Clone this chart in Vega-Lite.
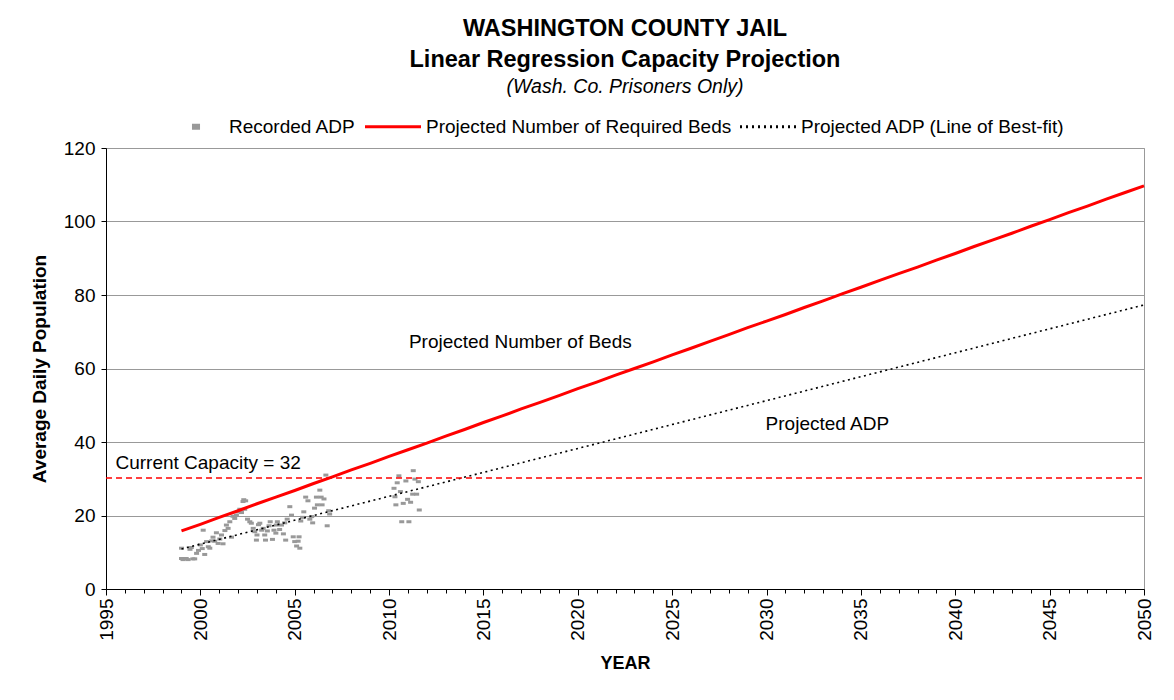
{
  "$schema": "https://vega.github.io/schema/vega-lite/v6.json",
  "width": 1038,
  "height": 441,
  "autosize": "none",
  "padding": {"left": 106, "top": 148, "right": 30, "bottom": 111},
  "background": "white",
  "config": {
    "font": "Liberation Sans",
    "view": {"stroke": "#999999", "strokeWidth": 1},
    "axis": {"labelFont": "Liberation Sans", "titleFont": "Liberation Sans", "labelColor": "black", "titleColor": "black"},
    "legend": {"labelFont": "Liberation Sans"},
    "text": {"font": "Liberation Sans"}
  },
  "title": {
    "text": ["WASHINGTON COUNTY JAIL", "Linear Regression Capacity Projection"],
    "subtitle": "(Wash. Co. Prisoners Only)",
    "font": "Liberation Sans",
    "subtitleFont": "Liberation Sans",
    "fontSize": 23.5,
    "fontWeight": "bold",
    "lineHeight": 31,
    "color": "black",
    "subtitleFontSize": 19.5,
    "subtitleFontStyle": "italic",
    "subtitleColor": "black",
    "subtitlePadding": 6,
    "anchor": "middle",
    "frame": "group",
    "offset": 1
  },
  "encoding": {
    "x": {
      "field": "year",
      "type": "quantitative",
      "scale": {"domain": [1995, 2050], "nice": false, "zero": false},
      "axis": {
        "title": "YEAR",
        "titleFontSize": 18,
        "titleFontWeight": "bold",
        "titlePadding": 14,
        "values": [1995,1996,1997,1998,1999,2000,2001,2002,2003,2004,2005,2006,2007,2008,2009,2010,2011,2012,2013,2014,2015,2016,2017,2018,2019,2020,2021,2022,2023,2024,2025,2026,2027,2028,2029,2030,2031,2032,2033,2034,2035,2036,2037,2038,2039,2040,2041,2042,2043,2044,2045,2046,2047,2048,2049,2050],
        "format": "d",
        "labelExpr": "datum.value % 5 === 0 ? datum.label : ''",
        "labelAngle": 270,
        "labelFontSize": 19,
        "labelPadding": 3,
        "labelFlush": false,
        "labelOverlap": false,
        "grid": false,
        "domainColor": "black",
        "tickColor": "black",
        "tickSize": {"condition": {"test": "datum.value % 5 === 0", "value": 6}, "value": 4}
      }
    },
    "y": {
      "field": "value",
      "type": "quantitative",
      "scale": {"domain": [0, 120], "nice": false},
      "axis": {
        "title": "Average Daily Population",
        "titleFontSize": 19,
        "titleFontWeight": "bold",
        "titlePadding": 14,
        "values": [0, 20, 40, 60, 80, 100, 120],
        "labelFontSize": 19,
        "labelPadding": 6,
        "grid": true,
        "gridColor": "#999999",
        "gridWidth": 1,
        "domainColor": "black",
        "tickColor": "black",
        "tickSize": 5
      }
    }
  },
  "layer": [
    {
      "data": {"values": [
        {"year": 1999.0, "value": 11.1}, {"year": 1999.0, "value": 8.3}, {"year": 1999.08, "value": 8.0}, {"year": 1999.17, "value": 8.2},
        {"year": 1999.25, "value": 8.3}, {"year": 1999.35, "value": 8.0}, {"year": 1999.45, "value": 10.8}, {"year": 1999.52, "value": 11.3},
        {"year": 1999.6, "value": 8.2}, {"year": 1999.7, "value": 8.2}, {"year": 1999.8, "value": 9.7}, {"year": 1999.9, "value": 10.5},
        {"year": 2000.0, "value": 12.0}, {"year": 2000.1, "value": 11.0}, {"year": 2000.15, "value": 16.0}, {"year": 2000.23, "value": 9.4},
        {"year": 2000.33, "value": 12.9}, {"year": 2000.42, "value": 11.5}, {"year": 2000.5, "value": 11.1}, {"year": 2000.6, "value": 13.1},
        {"year": 2000.67, "value": 14.1}, {"year": 2000.76, "value": 13.0}, {"year": 2000.85, "value": 15.3}, {"year": 2000.94, "value": 12.4},
        {"year": 2001.03, "value": 13.6}, {"year": 2001.12, "value": 14.7}, {"year": 2001.2, "value": 12.3}, {"year": 2001.3, "value": 15.9},
        {"year": 2001.38, "value": 17.4}, {"year": 2001.47, "value": 16.5}, {"year": 2001.56, "value": 18.3}, {"year": 2001.65, "value": 14.1},
        {"year": 2001.73, "value": 19.8}, {"year": 2001.82, "value": 19.2}, {"year": 2001.91, "value": 20.1}, {"year": 2002.0, "value": 21.0},
        {"year": 2002.09, "value": 21.7}, {"year": 2002.18, "value": 20.8}, {"year": 2002.26, "value": 23.8}, {"year": 2002.3, "value": 24.3},
        {"year": 2002.35, "value": 21.7}, {"year": 2002.4, "value": 24.0}, {"year": 2002.5, "value": 19.0}, {"year": 2002.62, "value": 18.3},
        {"year": 2002.7, "value": 17.9}, {"year": 2002.8, "value": 16.5}, {"year": 2002.88, "value": 15.6}, {"year": 2002.97, "value": 13.3},
        {"year": 2003.0, "value": 14.7}, {"year": 2003.08, "value": 17.5}, {"year": 2003.15, "value": 17.9}, {"year": 2003.25, "value": 16.0},
        {"year": 2003.33, "value": 16.5}, {"year": 2003.41, "value": 14.7}, {"year": 2003.45, "value": 13.3}, {"year": 2003.55, "value": 15.8},
        {"year": 2003.64, "value": 17.2}, {"year": 2003.7, "value": 18.3}, {"year": 2003.82, "value": 13.5}, {"year": 2003.9, "value": 16.0},
        {"year": 2004.0, "value": 15.2}, {"year": 2004.03, "value": 17.4}, {"year": 2004.08, "value": 18.3}, {"year": 2004.2, "value": 16.2},
        {"year": 2004.3, "value": 17.4}, {"year": 2004.4, "value": 15.0}, {"year": 2004.47, "value": 18.0}, {"year": 2004.52, "value": 13.3},
        {"year": 2004.6, "value": 19.0}, {"year": 2004.74, "value": 22.4}, {"year": 2004.83, "value": 20.1}, {"year": 2004.92, "value": 14.2},
        {"year": 2005.0, "value": 12.9}, {"year": 2005.1, "value": 11.7}, {"year": 2005.18, "value": 13.0}, {"year": 2005.23, "value": 14.2},
        {"year": 2005.27, "value": 11.1}, {"year": 2005.32, "value": 18.5}, {"year": 2005.41, "value": 19.5}, {"year": 2005.48, "value": 21.0},
        {"year": 2005.58, "value": 25.0}, {"year": 2005.7, "value": 24.0}, {"year": 2005.8, "value": 19.0}, {"year": 2005.9, "value": 19.7},
        {"year": 2005.95, "value": 18.0}, {"year": 2006.05, "value": 22.0}, {"year": 2006.15, "value": 25.0}, {"year": 2006.2, "value": 22.9},
        {"year": 2006.33, "value": 26.9}, {"year": 2006.4, "value": 25.0}, {"year": 2006.45, "value": 22.9}, {"year": 2006.55, "value": 24.5},
        {"year": 2006.65, "value": 31.0}, {"year": 2006.72, "value": 17.2}, {"year": 2006.8, "value": 21.3}, {"year": 2006.85, "value": 20.4},
        {"year": 2010.26, "value": 27.4}, {"year": 2010.31, "value": 25.1}, {"year": 2010.36, "value": 22.9}, {"year": 2010.43, "value": 28.9},
        {"year": 2010.52, "value": 30.8}, {"year": 2010.6, "value": 26.5}, {"year": 2010.67, "value": 18.3}, {"year": 2010.75, "value": 23.3},
        {"year": 2010.89, "value": 29.4}, {"year": 2010.98, "value": 24.4}, {"year": 2011.05, "value": 18.3}, {"year": 2011.14, "value": 23.6},
        {"year": 2011.25, "value": 25.8}, {"year": 2011.28, "value": 32.2}, {"year": 2011.37, "value": 29.9}, {"year": 2011.46, "value": 25.8},
        {"year": 2011.55, "value": 29.2}, {"year": 2011.6, "value": 21.5}
      ]},
      "mark": {"type": "point", "filled": true, "shape": "M-1,-0.6H1V0.6H-1Z", "size": 25, "opacity": 1},
      "encoding": {
        "color": {
          "datum": "Recorded ADP",
          "type": "nominal",
          "scale": {
            "domain": ["Recorded ADP", "Projected Number of Required Beds", "Projected ADP (Line of Best-fit)"],
            "range": ["#999999", "#ff0000", "#000000"]
          },
          "legend": {
            "title": null,
            "orient": "none",
            "legendX": 60.5,
            "legendY": -51,
            "direction": "horizontal",
            "columns": 3,
            "labelFontSize": 19,
            "labelColor": "black",
            "labelLimit": 0,
            "labelOffset": 3.5,
            "columnPadding": 2,
            "symbolType": "stroke",
            "symbolSize": 3136,
            "symbolStrokeWidth": 3,
            "encode": {
              "symbols": {
                "update": {
                  "shape": {"signal": "datum.value === 'Recorded ADP' ? 'M-0.09,-0.055H0.09V0.055H-0.09Z' : 'stroke'"},
                  "fill": {"signal": "datum.value === 'Recorded ADP' ? '#999999' : 'transparent'"},
                  "stroke": {"signal": "datum.value === 'Recorded ADP' ? 'transparent' : (datum.value === 'Projected Number of Required Beds' ? '#ff0000' : '#000000')"},
                  "strokeDash": {"signal": "datum.value === 'Projected ADP (Line of Best-fit)' ? [2, 4] : [1, 0]"},
                  "opacity": {"value": 1}
                }
              }
            }
          }
        }
      }
    },
    {
      "data": {"values": [
        {"year": 1999, "value": 10.9},
        {"year": 2050, "value": 77.3}
      ]},
      "mark": {"type": "line", "strokeWidth": 1.6, "strokeDash": [2, 3.5]},
      "encoding": {
        "color": {
          "datum": "Projected ADP (Line of Best-fit)",
          "type": "nominal",
          "legend": {
            "title": null,
            "orient": "none",
            "legendX": 60.5,
            "legendY": -51,
            "direction": "horizontal",
            "columns": 3,
            "labelFontSize": 19,
            "labelColor": "black",
            "labelLimit": 0,
            "labelOffset": 3.5,
            "columnPadding": 2,
            "symbolType": "stroke",
            "symbolSize": 3136,
            "symbolStrokeWidth": 3,
            "encode": {
              "symbols": {
                "update": {
                  "shape": {"signal": "datum.value === 'Recorded ADP' ? 'M-0.09,-0.055H0.09V0.055H-0.09Z' : 'stroke'"},
                  "fill": {"signal": "datum.value === 'Recorded ADP' ? '#999999' : 'transparent'"},
                  "stroke": {"signal": "datum.value === 'Recorded ADP' ? 'transparent' : (datum.value === 'Projected Number of Required Beds' ? '#ff0000' : '#000000')"},
                  "strokeDash": {"signal": "datum.value === 'Projected ADP (Line of Best-fit)' ? [2, 4] : [1, 0]"},
                  "opacity": {"value": 1}
                }
              }
            }
          }
        }
      }
    },
    {
      "data": {"values": [
        {"year": 1999, "value": 15.8}, {"year": 2000, "value": 17.6}, {"year": 2001, "value": 19.5}, {"year": 2002, "value": 21.3},
        {"year": 2003, "value": 23.2}, {"year": 2004, "value": 25.0}, {"year": 2005, "value": 26.8}, {"year": 2006, "value": 28.7},
        {"year": 2007, "value": 30.5}, {"year": 2008, "value": 32.4}, {"year": 2009, "value": 34.2}, {"year": 2010, "value": 36.1},
        {"year": 2011, "value": 37.9}, {"year": 2012, "value": 39.7}, {"year": 2013, "value": 41.6}, {"year": 2014, "value": 43.4},
        {"year": 2015, "value": 45.3}, {"year": 2016, "value": 47.1}, {"year": 2017, "value": 49.0}, {"year": 2018, "value": 50.8},
        {"year": 2019, "value": 52.6}, {"year": 2020, "value": 54.5}, {"year": 2021, "value": 56.3}, {"year": 2022, "value": 58.2},
        {"year": 2023, "value": 60.0}, {"year": 2024, "value": 61.8}, {"year": 2025, "value": 63.7}, {"year": 2026, "value": 65.5},
        {"year": 2027, "value": 67.4}, {"year": 2028, "value": 69.2}, {"year": 2029, "value": 71.1}, {"year": 2030, "value": 72.9},
        {"year": 2031, "value": 74.7}, {"year": 2032, "value": 76.6}, {"year": 2033, "value": 78.4}, {"year": 2034, "value": 80.3},
        {"year": 2035, "value": 82.1}, {"year": 2036, "value": 84.0}, {"year": 2037, "value": 85.8}, {"year": 2038, "value": 87.6},
        {"year": 2039, "value": 89.5}, {"year": 2040, "value": 91.3}, {"year": 2041, "value": 93.2}, {"year": 2042, "value": 95.0},
        {"year": 2043, "value": 96.8}, {"year": 2044, "value": 98.7}, {"year": 2045, "value": 100.5}, {"year": 2046, "value": 102.4},
        {"year": 2047, "value": 104.2}, {"year": 2048, "value": 106.1}, {"year": 2049, "value": 107.9}, {"year": 2050, "value": 109.7}
      ]},
      "mark": {"type": "line", "strokeWidth": 3},
      "encoding": {
        "color": {
          "datum": "Projected Number of Required Beds",
          "type": "nominal",
          "legend": {
            "title": null,
            "orient": "none",
            "legendX": 60.5,
            "legendY": -51,
            "direction": "horizontal",
            "columns": 3,
            "labelFontSize": 19,
            "labelColor": "black",
            "labelLimit": 0,
            "labelOffset": 3.5,
            "columnPadding": 2,
            "symbolType": "stroke",
            "symbolSize": 3136,
            "symbolStrokeWidth": 3,
            "encode": {
              "symbols": {
                "update": {
                  "shape": {"signal": "datum.value === 'Recorded ADP' ? 'M-0.09,-0.055H0.09V0.055H-0.09Z' : 'stroke'"},
                  "fill": {"signal": "datum.value === 'Recorded ADP' ? '#999999' : 'transparent'"},
                  "stroke": {"signal": "datum.value === 'Recorded ADP' ? 'transparent' : (datum.value === 'Projected Number of Required Beds' ? '#ff0000' : '#000000')"},
                  "strokeDash": {"signal": "datum.value === 'Projected ADP (Line of Best-fit)' ? [2, 4] : [1, 0]"},
                  "opacity": {"value": 1}
                }
              }
            }
          }
        }
      }
    },
    {
      "data": {"values": [{"year": 1995, "year2": 2050, "value": 30.2}]},
      "mark": {"type": "rule", "color": "#ff0000", "strokeWidth": 1.5, "strokeDash": [6, 4]},
      "encoding": {"x2": {"field": "year2"}}
    },
    {
      "data": {"values": [
        {"year": 1995.5, "value": 34.3, "label": "Current Capacity = 32"},
        {"year": 2011.05, "value": 67.2, "label": "Projected Number of Beds"},
        {"year": 2029.95, "value": 44.9, "label": "Projected ADP"}
      ]},
      "mark": {"type": "text", "align": "left", "baseline": "middle", "fontSize": 19, "color": "black"},
      "encoding": {"text": {"field": "label"}}
    }
  ]
}
